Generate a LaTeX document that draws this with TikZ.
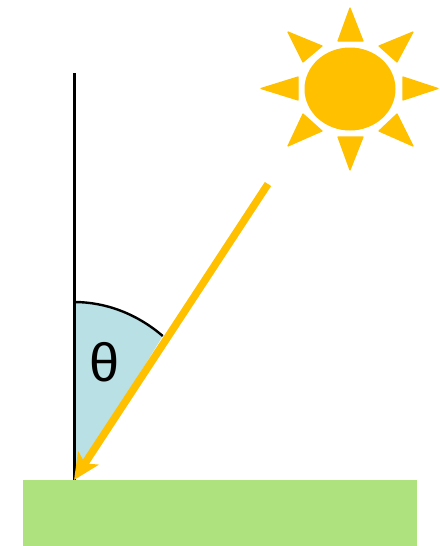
\documentclass[tikz,border=0pt]{standalone}
\usepackage{fontspec}
\setmainfont{Liberation Sans}
\usepackage{tikz}
\usetikzlibrary{
    arrows.meta,      % For the sun ray arrow tip
    shapes.geometric  % For the sun disc
}
\definecolor{SunGold}{HTML}{FFC000}
\definecolor{AngleBlue}{HTML}{B9E0E4}
\definecolor{GroundGreen}{HTML}{AEE27E}
\tikzset{
    % The disc of the sun
    sun_node/.style={
        ellipse, fill=SunGold, inner sep=0pt,
        minimum width=91pt, minimum height=83pt
    },
    % The small triangles round the sun
    ray_shape/.style={fill=SunGold, draw=SunGold, line width=1.2pt, line join=round},
    % The strip of ground
    ground_node/.style={
        rectangle, fill=GroundGreen, inner sep=0pt,
        minimum width=394pt, minimum height=66pt
    },
    % Arrow and line styles
    normal_line/.style={draw=black, line width=3pt},
    angle_arc/.style={draw=black, line width=2.4pt},
    light_arrow/.style={-{Stealth[length=26pt, width=24pt, inset=6pt]}, draw=SunGold, line width=7.5pt}
}
\begin{document}
\begin{tikzpicture}[x=1pt, y=-1pt]
\useasboundingbox (0,0) rectangle (439,546);

% --- GROUND AND POINTS ---
\node[ground_node] (ground) at (220,513) {};
\coordinate (foot) at (74,480);
\coordinate (normal_top) at (74,73);
\coordinate (light_start) at (268,184);
\coordinate (arc_start) at (74,302);

% --- ANGLE ---
\fill[AngleBlue] (foot) -- (arc_start) arc[start angle=90, end angle=54, x radius=151pt, y radius=178pt] -- cycle;
\draw[angle_arc] (arc_start) arc[start angle=90, end angle=54, x radius=151pt, y radius=178pt];
\node[font=\fontsize{54}{54}\selectfont, inner sep=0pt] (theta) at (104.5,362) {θ};

% --- SUN ---
\node[sun_node] (sun) at (350,89) {};
\foreach \ax/\ay/\bx/\by/\cx/\cy in {
    350/8/338/41/363/41,
    350/170/338/137/363/137,
    261/88.5/298/77/298/100,
    438/88.5/403/77/403/100,
    288/32/322/46/303/62,
    413/32/379/46/397/62,
    288/146/322/131/303/114,
    413/146/379/131/397/114}{
    \draw[ray_shape] (\ax,\ay) -- (\bx,\by) -- (\cx,\cy) -- cycle;
}

% --- EDGES ---
\draw[normal_line] (normal_top) -- (foot);
\draw[light_arrow] (light_start) -- (foot);

\end{tikzpicture}
\end{document}
